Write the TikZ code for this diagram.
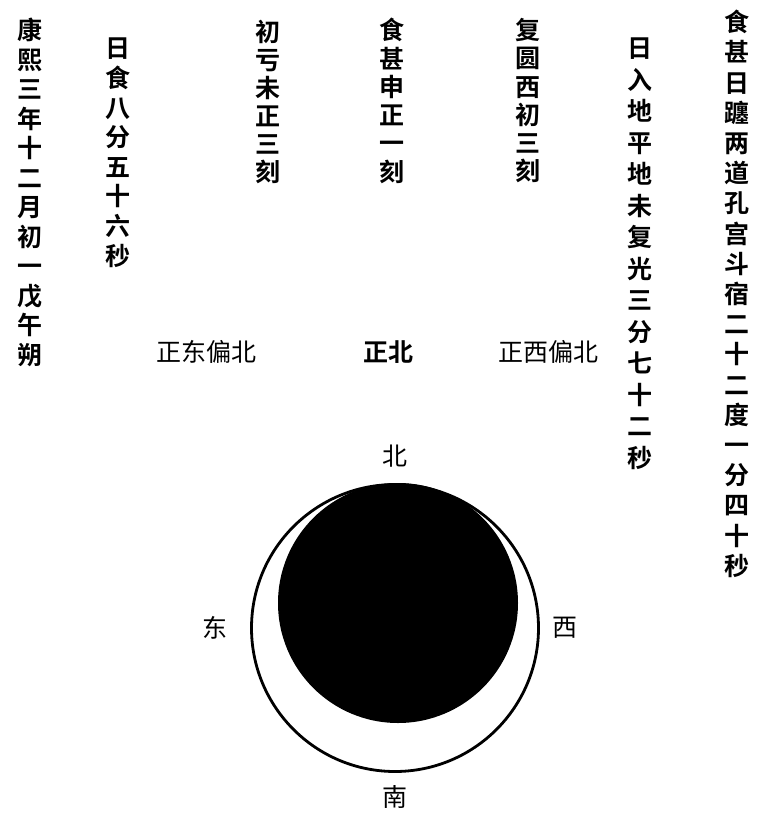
\documentclass[tikz,border=0pt]{standalone}
\usepackage{fontspec}
\newfontfamily\cjk{Noto Sans CJK SC}[BoldFont={Noto Sans CJK SC Bold}]
\usetikzlibrary{positioning}

\tikzset{
  col/.style={font=\cjk\bfseries\fontsize{25}{#1}\selectfont, align=center, anchor=north, inner sep=0pt},
  col/.default=30,
  dir/.style={font=\cjk\fontsize{25}{30}\selectfont, inner sep=0pt},
}

\begin{document}
\begin{tikzpicture}[x=1pt, y=-1pt]
        \useasboundingbox (0,0) rectangle (766,817);
        % Columns of dates and times
        \node[col=29.5] (date) at (30,18) {康\\熙\\三\\年\\十\\二\\月\\初\\一\\戊\\午\\朔};
        \node[col=29.6] (mag) at (118,38) {日\\食\\八\\分\\五\\十\\六\\秒};
        \node[col=28] (first) at (268,20) {初\\亏\\未\\正\\三\\刻};
        \node[col=28.3] (max) at (392,18) {食\\甚\\申\\正\\一\\刻};
        \node[col=28.3] (last) at (528,18) {复\\圆\\西\\初\\三\\刻};
        \node[col=31.5] (sunset) at (640,38) {日\\入\\地\\平\\地\\未\\复\\光\\三\\分\\七\\十\\二\\秒};
        \node[col=30.2] (sunpos) at (737,10) {食\\甚\\日\\躔\\两\\道\\孔\\宫\\斗\\宿\\二\\十\\二\\度\\一\\分\\四\\十\\秒};

        % Bearings of the contacts
        \node[dir] (ne) at (206,352) {正东偏北};
        \node[dir, font=\cjk\bfseries\fontsize{25}{30}\selectfont] (n) at (388,352) {正北};
        \node[dir] (nw) at (548,352) {正西偏北};

        % Sun disc and the moon over it
        \node[circle, draw, line width=2.8pt, minimum size=287pt, inner sep=0pt] (sun) at (395,628) {};
        \node[circle, fill, minimum size=240pt, inner sep=0pt] (moon) at (398,603) {};

        % Compass points
        \node[dir] (north) [above=16pt of sun.north] {北};
        \node[dir] (south) [below=12pt of sun.south] {南};
        \node[dir] (east) [left=22pt of sun.west] {东};
        \node[dir] (west) [right=12pt of sun.east] {西};
\end{tikzpicture}
\end{document}
